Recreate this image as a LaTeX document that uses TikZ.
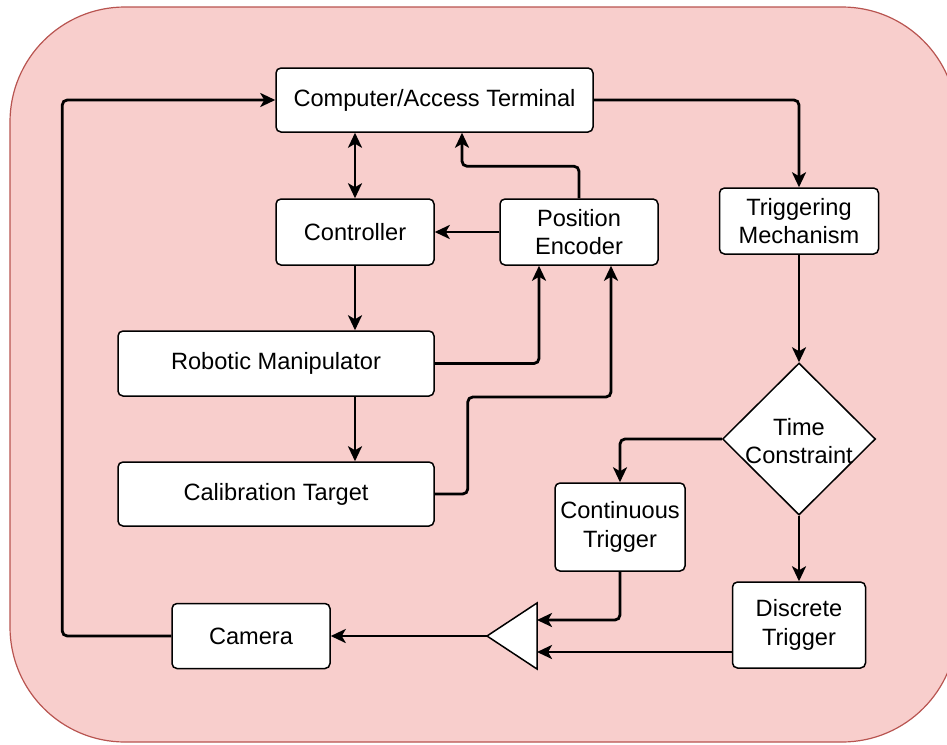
\documentclass[tikz,border=0pt]{standalone}
\usepackage{fontspec}
\setmainfont{Liberation Sans}
\usetikzlibrary{arrows.meta, shapes.geometric}
\definecolor{bgfill}{HTML}{F8CECC}
\definecolor{bgline}{HTML}{B85450}

\begin{document}
\begin{tikzpicture}[x=1pt, y=-1pt, >={Stealth[length=15pt,width=14pt,inset=4pt]},
  every node/.style={font=\fontsize{23.6}{28.5}\selectfont},
  block/.style={draw, line width=1.5pt, fill=white, rounded corners=5pt, inner sep=0pt, align=center},
  decision/.style={draw, diamond, line width=1.5pt, fill=white, inner sep=0pt, aspect=1},
  link/.style={->, line width=2.8pt, rounded corners=5pt}]

\clip (0,0) rectangle (947,744);

% Background
\draw[bgline, fill=bgfill, line width=1.2pt, rounded corners=115pt] (10,7) rectangle (957,742);

% Top row
\node[block, minimum width=317pt, minimum height=64pt] (pc) at (434.5,100) {Computer/Access Terminal};
\node[block, minimum width=158pt, minimum height=66pt] (ctrl) at (355,232) {Controller};
\node[block, minimum width=158pt, minimum height=66pt] (enc) at (579,232) {Position\\Encoder};
\node[block, minimum width=159pt, minimum height=66pt] (trig) at (799,221) {Triggering\\Mechanism};

% Middle
\node[block, minimum width=316pt, minimum height=65pt] (robot) at (276,363.5) {Robotic Manipulator};
\node[block, minimum width=316pt, minimum height=64pt] (calib) at (276,494) {Calibration Target};
\node[decision, minimum width=153pt, minimum height=152pt] (time) at (799,439) {};
\node[align=center] (timetext) at (799,441) {Time\\Constraint};

% Bottom row
\node[block, minimum width=130pt, minimum height=88pt] (cont) at (620,527) {Continuous\\Trigger};
\node[block, minimum width=133pt, minimum height=86pt] (disc) at (799,625) {Discrete\\Trigger};
\node[block, minimum width=158pt, minimum height=65pt] (cam) at (251,636) {Camera};

% Triangle
\coordinate (amptip) at (487,636);
\coordinate (ampin1) at (537,620);
\coordinate (ampin2) at (537,652);
\draw[line width=1.5pt, fill=white, line join=miter] (amptip) -- (537,603) -- (537,669) -- cycle;

% Arrows
\draw[link] (cam.west) -- ++(-109,0) |- (pc.west);
\draw[link, <->] (pc.south -| ctrl) -- (ctrl.north);
\draw[link] (enc.west) -- (ctrl.east);
\draw[link] (enc.north) -- ++(0,-32) -| ([xshift=27.5pt]pc.south);
\draw[link] (pc.east) -| (trig.north);
\draw[link] (ctrl.south) -- (robot.north -| ctrl);
\draw[link] (robot.east) -| ([xshift=-40pt]enc.south);
\draw[link] (robot.south -| ctrl) -- (calib.north -| ctrl);
\draw[link] (calib.east) -- ++(33,0) -- ++(0,-97) -| ([xshift=32pt]enc.south);
\draw[link] (trig.south) -- (time.north);
\draw[link] (time.west) -| (cont.north);
\draw[link] (time.south) -- (disc.north);
\draw[link] (cont.south) |- (ampin1);
\draw[link] (disc.west |- ampin2) -- (ampin2);
\draw[link] (amptip) -- (cam.east);

\end{tikzpicture}
\end{document}
